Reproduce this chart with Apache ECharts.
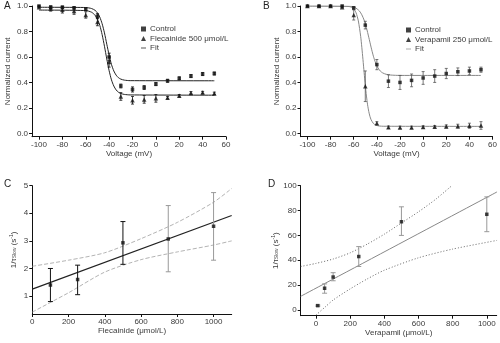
<!DOCTYPE html>
<html>
<head>
<meta charset="utf-8">
<script src="https://cdn.jsdelivr.net/npm/echarts@6/dist/echarts.min.js"></script>
<style>
  html, body { margin: 0; padding: 0; background: #fff; }
  #chart { width: 500px; height: 343px; }
</style>
</head>
<body>
<div id="chart"></div>
<script>
// Steady-state inactivation (panels A, B)
const voltages = [-100, -90, -80, -70, -60, -50, -40, -30, -20, -10, 0, 10, 20, 30, 40, 50];
const voltageTicks = [-100, -80, -60, -40, -20, 0, 20, 40, 60];
const currentTicks = [0, 0.2, 0.4, 0.6, 0.8, 1.0];

const controlA = [1.0, 0.99, 0.99, 0.985, 0.975, 0.92, 0.60, 0.372, 0.345, 0.36, 0.387, 0.413, 0.432, 0.45, 0.466, 0.47];
const controlAErr = [0.004, 0.01, 0.01, 0.01, 0.01, 0.02, 0.03, 0.015, 0.02, 0.015, 0.012, 0.012, 0.012, 0.012, 0.012, 0.012];
const flecainideA = [0.99, 0.98, 0.97, 0.96, 0.93, 0.875, 0.56, 0.29, 0.26, 0.267, 0.275, 0.28, 0.295, 0.318, 0.32, 0.314];
const flecainideAErr = [0.004, 0.02, 0.025, 0.025, 0.025, 0.03, 0.04, 0.03, 0.03, 0.03, 0.03, 0.01, 0.01, 0.01, 0.01, 0.01];
const fitControlA = [[-100, 0.99], [-60, 0.988], [-55, 0.98], [-52, 0.966], [-50, 0.946], [-48, 0.913], [-46, 0.861], [-44, 0.789], [-42, 0.70], [-40, 0.614], [-38, 0.541], [-36, 0.49], [-34, 0.457], [-32, 0.437], [-30, 0.426], [-27, 0.418], [-22, 0.414], [50, 0.413]];
const fitFlecainideA = [[-100, 0.968], [-60, 0.964], [-55, 0.951], [-52, 0.927], [-50, 0.896], [-48, 0.848], [-46, 0.776], [-44, 0.684], [-42, 0.584], [-40, 0.492], [-38, 0.42], [-36, 0.372], [-34, 0.341], [-32, 0.323], [-30, 0.313], [-27, 0.306], [-22, 0.302], [50, 0.30]];

const controlB = [1.0, 1.0, 1.0, 1.0, 0.985, 0.85, 0.54, 0.41, 0.40, 0.416, 0.435, 0.45, 0.47, 0.484, 0.49, 0.50];
const controlBErr = [0.004, 0.004, 0.004, 0.005, 0.01, 0.03, 0.04, 0.05, 0.055, 0.05, 0.05, 0.05, 0.04, 0.03, 0.03, 0.02];
const verapamilB = [1.0, 1.0, 1.0, 0.99, 0.93, 0.37, 0.08, 0.048, 0.047, 0.047, 0.05, 0.052, 0.055, 0.057, 0.06, 0.062];
const verapamilBErr = [0.004, 0.004, 0.004, 0.005, 0.04, 0.12, 0.012, 0.01, 0.01, 0.01, 0.01, 0.01, 0.012, 0.015, 0.02, 0.03];
const fitControlB = [[-100, 1.0], [-65, 0.998], [-60, 0.994], [-57, 0.976], [-55, 0.96], [-53, 0.931], [-51, 0.889], [-49, 0.829], [-47, 0.755], [-45, 0.677], [-43, 0.606], [-41, 0.551], [-39, 0.514], [-37, 0.489], [-35, 0.475], [-32, 0.464], [-28, 0.458], [-20, 0.455], [50, 0.455]];
const fitVerapamilB = [[-100, 1.0], [-64, 0.996], [-60, 0.977], [-58, 0.947], [-56, 0.883], [-54, 0.762], [-53, 0.676], [-52, 0.579], [-51, 0.477], [-50, 0.379], [-49, 0.293], [-48, 0.224], [-47, 0.172], [-46, 0.134], [-45, 0.108], [-43, 0.078], [-41, 0.065], [-38, 0.058], [-34, 0.056], [50, 0.055]];

// Slow-recovery rate vs concentration (panels C, D)
const flecainideDose = [100, 250, 500, 750, 1000];
const rateC = [1.4, 1.6, 2.93, 3.07, 3.53];
const rateCLow = [0.8, 1.05, 2.15, 1.88, 2.3];
const rateCHigh = [2.0, 2.12, 3.7, 4.28, 4.75];
const rateCBarColor = ['#111', '#111', '#111', '#999', '#999'];
const fitC = [[0, 1.25], [1100, 3.92]];
const upperC = [[0, 2.08], [200, 2.3], [400, 2.57], [600, 3.08], [800, 3.67], [1000, 4.4], [1100, 4.9]];
const lowerC = [[0, 0.42], [200, 1.12], [400, 1.87], [600, 2.32], [800, 2.6], [1000, 2.85], [1100, 3.0]];
const doseTicksC = [0, 200, 400, 600, 800, 1000];
const rateTicksC = [1, 2, 3, 4, 5];

const verapamilDose = [10, 50, 100, 250, 500, 1000];
const rateD = [3.5, 17.5, 26.5, 43, 71, 77];
const rateDLow = [3, 13.5, 23.5, 35, 60, 63];
const rateDHigh = [4, 21, 30, 51, 83, 91];
const fitD = [[-90, 11], [1060, 95]];
const upperD = [[-90, 35], [0, 37.5], [100, 41], [200, 46], [300, 53], [400, 61], [500, 70], [600, 79], [700, 89], [795, 100]];
const lowerD = [[0, -4], [50, 2], [100, 8], [200, 17], [300, 25], [400, 32], [600, 42], [800, 49], [1060, 56]];
const doseTicksD = [0, 200, 400, 600, 800, 1000];
const rateTicksD = [0, 20, 40, 60, 80, 100];

const FONT = 'Liberation Sans, Arial, sans-serif';
const TXT = '#3a3a3a';

function valueAxis(gridIndex, min, max, ticks, name, nameGap, fmt, extra) {
  return Object.assign({
    type: 'value', gridIndex, min, max,
    name, nameLocation: 'middle', nameGap,
    nameTextStyle: { fontSize: 8, color: TXT, fontFamily: FONT },
    axisLine: { show: true, onZero: false, lineStyle: { color: '#111', width: 1 } },
    axisTick: { show: true, length: 3, customValues: ticks, lineStyle: { color: '#111' } },
    axisLabel: { customValues: ticks, fontSize: 8, color: TXT, fontFamily: FONT, margin: 4, formatter: fmt },
    splitLine: { show: false }
  }, extra || {});
}

function errorBars(xi, yi, rows, colorFn, cap, width) {
  return {
    type: 'custom', xAxisIndex: xi, yAxisIndex: yi, z: 3, silent: true,
    data: rows,
    renderItem(params, api) {
      const x = api.value(0);
      const lo = api.coord([x, api.value(1)]);
      const hi = api.coord([x, api.value(2)]);
      const style = { stroke: colorFn(params.dataIndex), lineWidth: width };
      return {
        type: 'group', children: [
          { type: 'line', shape: { x1: lo[0], y1: lo[1], x2: hi[0], y2: hi[1] }, style },
          { type: 'line', shape: { x1: lo[0] - cap, y1: lo[1], x2: lo[0] + cap, y2: lo[1] }, style },
          { type: 'line', shape: { x1: hi[0] - cap, y1: hi[1], x2: hi[0] + cap, y2: hi[1] }, style }
        ]
      };
    }
  };
}

const withErr = (xs, ys, es) => xs.map((x, i) => [x, ys[i] - es[i], ys[i] + es[i]]);
const pairs = (xs, ys) => xs.map((x, i) => [x, ys[i]]);
const fmt1 = v => v.toFixed(1);

function lineSeries(name, xi, data, color, width, type) {
  return {
    type: 'line', name, xAxisIndex: xi, yAxisIndex: xi, data, smooth: 0.25,
    showSymbol: false, symbol: 'none', z: 2, silent: true,
    lineStyle: { color, width, type: type || 'solid' }, itemStyle: { color }
  };
}

function pointSeries(name, xi, data, symbol, size) {
  return {
    type: 'scatter', name, xAxisIndex: xi, yAxisIndex: xi, data, symbol, symbolSize: size,
    itemStyle: { color: '#111' }, z: 4, silent: true
  };
}

const fitIcon = 'path://M0,0H10V1.4H0Z';
function legend(left, top, drugName, drugKey, fitColor) {
  return {
    left, top, orient: 'vertical', itemGap: 1.5, itemWidth: 5, itemHeight: 5,
    textStyle: { fontSize: 8, color: TXT, fontFamily: FONT, padding: [0, 0, 0, -1] },
    selectedMode: false,
    data: [
      { name: 'Control', icon: 'rect', itemStyle: { color: '#111' } },
      { name: drugName, icon: 'triangle', itemStyle: { color: '#111' } },
      { name: drugKey, icon: fitIcon, itemStyle: { color: fitColor } }
    ],
    formatter: n => (n === drugKey ? 'Fit' : n)
  };
}

const tauName = '1/τ{sub|Slow} (s{sup|-1})';
const tauRich = {
  sub: { fontSize: 5, color: TXT, fontFamily: FONT, verticalAlign: 'bottom', padding: [3, 0, 0, 0] },
  sup: { fontSize: 5, color: TXT, fontFamily: FONT, verticalAlign: 'top', padding: [0, 0, 3, 0] }
};

const chart = echarts.init(document.getElementById('chart'), null, { renderer: 'canvas' });
chart.setOption({
  animation: false,
  backgroundColor: '#fff',
  textStyle: { fontFamily: FONT },
  grid: [
    { left: 32, top: 6, width: 194, height: 130.7 },
    { left: 300.5, top: 6, width: 192.5, height: 130.7 },
    { left: 32.3, top: 185.7, width: 199.4, height: 128.3 },
    { left: 300.7, top: 185.7, width: 196, height: 130 }
  ],
  xAxis: [
    valueAxis(0, -106, 60, voltageTicks, 'Voltage (mV)', 13, v => v),
    valueAxis(1, -106, 60, voltageTicks, 'Voltage (mV)', 13, v => v),
    valueAxis(2, 0, 1100, doseTicksC, 'Flecainide (μmol/L)', 13, v => v),
    valueAxis(3, -90, 1058, doseTicksD, 'Verapamil (μmol/L)', 13, v => v)
  ],
  yAxis: [
    valueAxis(0, -0.026, 1.0, currentTicks, 'Normalized current', 20, fmt1),
    valueAxis(1, -0.026, 1.0, currentTicks, 'Normalized current', 20, fmt1),
    valueAxis(2, 0.35, 5, rateTicksC, tauName, 15, v => v, { nameTextStyle: { fontSize: 8, color: TXT, fontFamily: FONT, rich: tauRich } }),
    valueAxis(3, -4.6, 100, rateTicksD, tauName, 21, v => v, { nameTextStyle: { fontSize: 8, color: TXT, fontFamily: FONT, rich: tauRich } })
  ],
  legend: [
    legend(136, 20, 'Flecainide 500 μmol/L', 'Fit', '#111'),
    legend(401, 21, 'Verapamil 250 μmol/L', 'Fit (verapamil)', '#888')
  ],
  graphic: [
    { type: 'text', left: 4, top: 1, style: { text: 'A', fontSize: 10, fill: '#222', fontFamily: FONT } },
    { type: 'text', left: 263, top: 1, style: { text: 'B', fontSize: 10, fill: '#222', fontFamily: FONT } },
    { type: 'text', left: 4, top: 179, style: { text: 'C', fontSize: 10, fill: '#222', fontFamily: FONT } },
    { type: 'text', left: 268, top: 179, style: { text: 'D', fontSize: 10, fill: '#222', fontFamily: FONT } }
  ],
  series: [
    // A
    lineSeries('Fit', 0, fitControlA, '#222', 1),
    lineSeries('Fit', 0, fitFlecainideA, '#222', 1),
    errorBars(0, 0, withErr(voltages, controlA, controlAErr), () => '#111', 1.5, 0.8),
    errorBars(0, 0, withErr(voltages, flecainideA, flecainideAErr), () => '#111', 1.5, 0.8),
    pointSeries('Control', 0, pairs(voltages, controlA), 'rect', 3.5),
    pointSeries('Flecainide 500 μmol/L', 0, pairs(voltages, flecainideA), 'triangle', 4.5),
    // B
    lineSeries('Fit (verapamil)', 1, fitControlB, '#888', 1),
    lineSeries('Fit (verapamil)', 1, fitVerapamilB, '#888', 1),
    errorBars(1, 1, withErr(voltages, controlB, controlBErr), () => '#555', 1.5, 0.8),
    errorBars(1, 1, withErr(voltages, verapamilB, verapamilBErr), () => '#555', 1.5, 0.8),
    pointSeries('Control', 1, pairs(voltages, controlB), 'rect', 3.5),
    pointSeries('Verapamil 250 μmol/L', 1, pairs(voltages, verapamilB), 'triangle', 4.5),
    // C
    lineSeries('C upper', 2, upperC, '#aaa', 0.9, [4, 2]),
    lineSeries('C lower', 2, lowerC, '#aaa', 0.9, [4, 2]),
    lineSeries('C fit', 2, fitC, '#222', 1.2),
    errorBars(2, 2, flecainideDose.map((x, i) => [x, rateCLow[i], rateCHigh[i]]), i => rateCBarColor[i], 2.5, 1),
    pointSeries('C mean', 2, pairs(flecainideDose, rateC), 'rect', 3.5),
    // D
    lineSeries('D upper', 3, upperD, '#555', 0.9, [1, 2]),
    lineSeries('D lower', 3, lowerD, '#555', 0.9, [1, 2]),
    lineSeries('D fit', 3, fitD, '#888', 1),
    errorBars(3, 3, verapamilDose.map((x, i) => [x, rateDLow[i], rateDHigh[i]]), () => '#999', 2.5, 1),
    pointSeries('D mean', 3, pairs(verapamilDose, rateD), 'rect', 3.5)
  ]
});
</script>
</body>
</html>
